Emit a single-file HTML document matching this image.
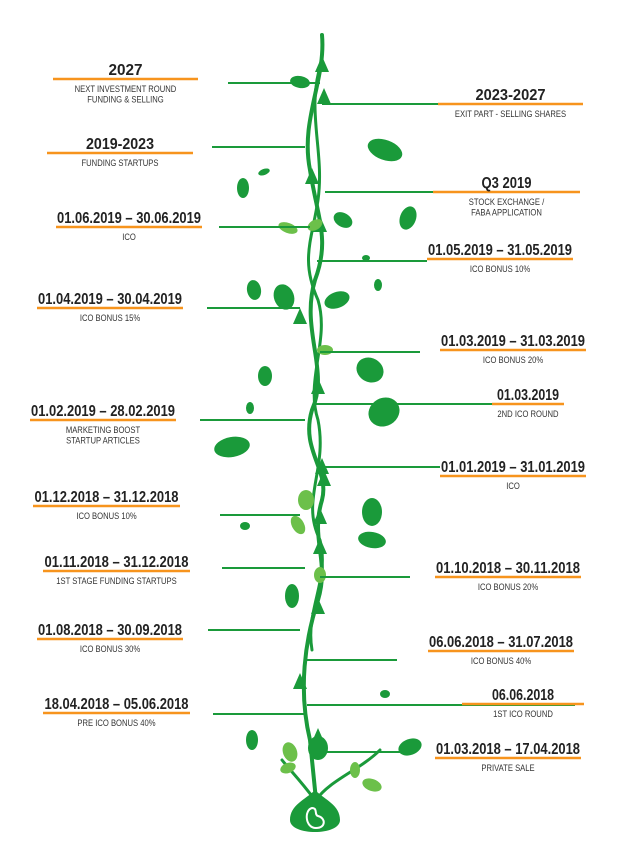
<!DOCTYPE html>
<html><head><meta charset="utf-8">
<style>
html,body{margin:0;padding:0;background:#fff;}
svg{display:block;}
.t{font-family:"Liberation Sans Narrow","Liberation Sans",sans-serif;font-weight:bold;fill:#222;font-size:16px;}
.s{font-family:"Liberation Sans Narrow","Liberation Sans",sans-serif;fill:#333;font-size:9px;}
</style></head>
<body>
<svg id="c" width="626" height="842" viewBox="0 0 626 842">
  <g id="vine" fill="none" stroke="#1a9a3a" stroke-width="4" stroke-linecap="round">
    <path d="M322 35 C326 80 300 120 310 170 C318 220 330 240 315 280 C300 330 330 370 312 410 C300 450 330 470 322 500 C310 540 330 560 318 600 C305 640 298 690 310 740 L316 800"/>
    <path d="M322 60 C305 110 325 150 318 200 C312 240 300 260 318 300 C330 340 305 380 318 420 C328 470 300 500 320 540 C330 580 305 610 312 650" stroke-width="3"/>
    <path d="M316 800 C330 780 360 770 380 750" stroke-width="3"/>
    <path d="M315 800 C300 780 290 770 282 760" stroke-width="3"/>
  </g>
  <g id="arrows" fill="#1a9a3a"></g>
  <g id="leaves"></g>
  <g>
    <path d="M315 790 C305 800 290 805 290 820 C290 836 340 836 340 820 C340 805 325 800 315 790 Z" fill="#1a9a3a"/>
    <path d="M312 808 C304 810 305 828 316 828 C326 828 326 818 318 816 C314 815 318 808 312 808 Z" fill="none" stroke="#fff" stroke-width="2"/>
  </g>
  <g id="entries"></g>
</svg>
<script>
const titles=["2027","2019-2023","01.06.2019 – 30.06.2019","01.04.2019 – 30.04.2019","01.02.2019 – 28.02.2019","01.12.2018 – 31.12.2018","01.11.2018 – 31.12.2018","01.08.2018 – 30.09.2018","18.04.2018 – 05.06.2018","2023-2027","Q3 2019","01.05.2019 – 31.05.2019","01.03.2019 – 31.03.2019","01.03.2019","01.01.2019 – 31.01.2019","01.10.2018 – 30.11.2018","06.06.2018 – 31.07.2018","06.06.2018","01.03.2018 – 17.04.2018"];
const subs=[["NEXT INVESTMENT ROUND","FUNDING & SELLING"],["FUNDING STARTUPS"],["ICO"],["ICO BONUS 15%"],["MARKETING BOOST","STARTUP ARTICLES"],["ICO BONUS 10%"],["1ST STAGE FUNDING STARTUPS"],["ICO BONUS 30%"],["PRE ICO BONUS 40%"],["EXIT PART - SELLING SHARES"],["STOCK EXCHANGE /","FABA APPLICATION"],["ICO BONUS 10%"],["ICO BONUS 20%"],["2ND ICO ROUND"],["ICO"],["ICO BONUS 20%"],["ICO BONUS 40%"],["1ST ICO ROUND"],["PRIVATE SALE"]];
// [underlineY, underlineX1, underlineX2, lineY, lineX1, lineX2, titleWidth]
const geo=[[79,53,198,83,228,320,34],[153,47,193,147,212,305,68],[227,56,202,227,219,310,144],[308,37,183,308,207,300,144],[420,30,176,420,200,305,144],[506,33,180,515,220,300,144],[571,43,190,568,222,305,144],[639,37,183,630,208,300,144],[713,43,190,714,213,305,144],
[104,438,583,104,322,438,70],[192,433,580,192,325,433,50],[259,427,573,261,317,427,144],[350,440,586,352,320,420,144],[404,492,564,404,315,560,62],[476,440,586,467,320,440,144],[577,435,581,577,320,410,144],[651,428,574,660,305,397,144],[704,462,584,705,307,575,62],[758,435,581,752,320,415,144]];
const NS="http://www.w3.org/2000/svg";
const E=document.getElementById('entries');
function mk(tag,at,p){const e=document.createElementNS(NS,tag);for(const k in at)e.setAttribute(k,at[k]);p.appendChild(e);return e;}
titles.forEach((t,i)=>{
  const g=geo[i];
  const grp=mk('g',{},E);
  
  
  const ln=mk('line',{x1:g[4],x2:g[5],y1:g[3],y2:g[3],stroke:'#1a9a3a','stroke-width':2},grp);
  
  
  const ul=mk('line',{x1:g[1],x2:g[2],y1:g[0],y2:g[0],stroke:'#f7941d','stroke-width':2.5},grp);
  
  
  const cx=(g[1]+g[2])/2;
  const tx=mk('text',{x:cx,y:g[0]-4,'text-anchor':'middle','class':'t',textLength:g[6],lengthAdjust:'spacingAndGlyphs'},grp);
  tx.textContent=t;
  
  
  subs[i].forEach((s,j)=>{
    const st=mk('text',{x:cx,y:g[0]+13+j*10.5,'text-anchor':'middle','class':'s'},grp);
    st.setAttribute('transform','translate('+cx+' 0) scale(0.85 1) translate('+(-cx)+' 0)');
    st.textContent=s;
    
    
  });
});
// decorative leaves: x,y,rx,ry,rotation,color
const leaves=[[300,82,10,6,10,"#1a9a3a"],[385,150,18,10,20,"#1a9a3a"],[243,188,6,10,0,"#1a9a3a"],[264,172,6,3,-20,"#1a9a3a"],[408,218,8,12,20,"#1a9a3a"],[343,220,10,7,30,"#1a9a3a"],[288,228,10,5,20,"#6cc04a"],[315,225,8,5,-30,"#6cc04a"],[284,297,10,13,-20,"#1a9a3a"],[254,290,7,10,-10,"#1a9a3a"],[337,300,13,8,-20,"#1a9a3a"],[378,285,4,6,0,"#1a9a3a"],[366,258,4,3,0,"#1a9a3a"],[370,370,14,12,30,"#1a9a3a"],[325,350,8,5,0,"#6cc04a"],[265,376,7,10,0,"#1a9a3a"],[384,412,16,14,-30,"#1a9a3a"],[232,447,18,10,-10,"#1a9a3a"],[250,408,4,6,0,"#1a9a3a"],[372,512,10,14,0,"#1a9a3a"],[372,540,14,8,10,"#1a9a3a"],[306,500,8,10,0,"#6cc04a"],[245,526,5,4,0,"#1a9a3a"],[298,525,6,10,-30,"#6cc04a"],[292,596,7,12,0,"#1a9a3a"],[320,575,6,8,0,"#6cc04a"],[385,694,5,4,0,"#1a9a3a"],[252,740,6,10,0,"#1a9a3a"],[410,747,12,8,-20,"#1a9a3a"],[290,752,7,10,-20,"#6cc04a"],[288,768,8,5,-20,"#6cc04a"],[355,770,5,8,0,"#6cc04a"],[372,785,10,6,20,"#6cc04a"],[318,748,10,12,0,"#1a9a3a"]];
const L=document.getElementById('leaves');
leaves.forEach(l=>{const e=mk('ellipse',{cx:l[0],cy:l[1],rx:l[2],ry:l[3],fill:l[5],transform:'rotate('+l[4]+' '+l[0]+' '+l[1]+')'},L);

});
const arrows=[[322,68],[324,100],[312,180],[320,228],[300,320],[318,390],[322,470],[324,482],[320,520],[320,550],[318,610],[300,685],[318,740]];
const A=document.getElementById('arrows');
arrows.forEach(a=>{const e=mk('path',{d:'M'+a[0]+' '+(a[1]-12)+' L'+(a[0]-7)+' '+(a[1]+4)+' L'+(a[0]+7)+' '+(a[1]+4)+' Z'},A);

});
</script>
</body></html>
